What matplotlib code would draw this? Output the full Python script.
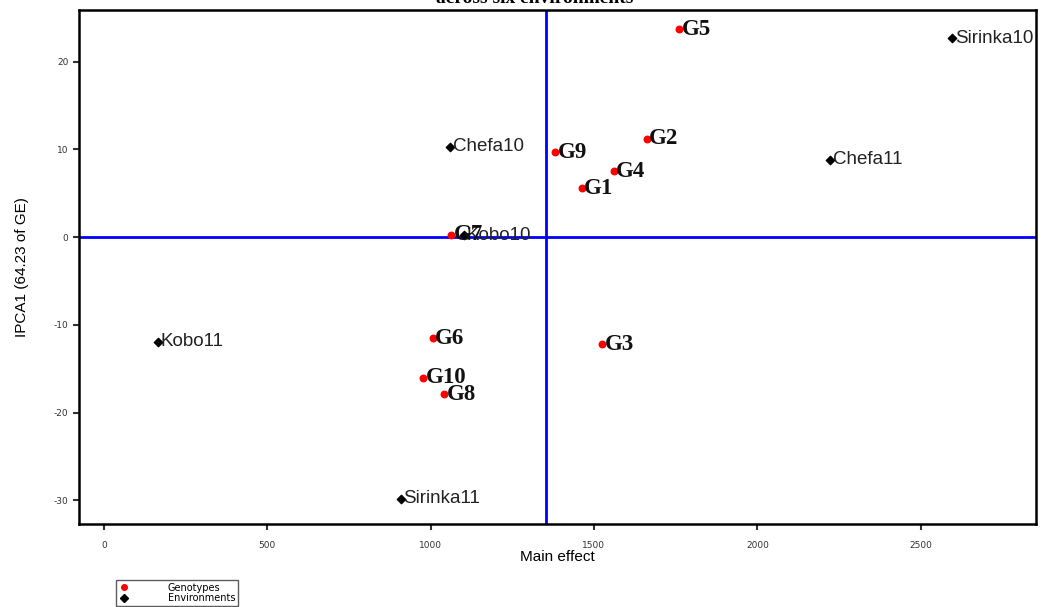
import numpy as np
import matplotlib.pyplot as plt
from matplotlib.lines import Line2D

plt.rcParams['axes.unicode_minus'] = False

# genotype scores (main effect, IPCA1)
geno_names = ['G1', 'G2', 'G3', 'G4', 'G5', 'G6', 'G7', 'G8', 'G9', 'G10']
geno_x = [1462, 1661, 1526, 1560, 1761, 1006, 1064, 1040, 1382, 976]
geno_y = [5.6, 11.2, -12.2, 7.5, 23.7, -11.5, 0.3, -17.9, 9.7, -16.0]

# environment scores
env_names = ['Sirinka10', 'Chefa10', 'Chefa11', 'Kobo10', 'Kobo11', 'Sirinka11']
env_x = [2596, 1061, 2223, 1102, 165, 908]
env_y = [22.7, 10.3, 8.8, 0.2, -11.9, -29.8]

grand_mean = 1352

fig = plt.figure(figsize=(10.61, 6.07), dpi=100)
ax = fig.add_axes([79/1061, 1 - 524/607, (1036 - 79)/1061, (524 - 10)/607])

ax.axvline(grand_mean, color='#0000ff', lw=2, zorder=1)
ax.axhline(0, color='#0000ff', lw=2, zorder=1)

ax.scatter(env_x, env_y, marker='D', s=18, color='black', zorder=3)
ax.scatter(geno_x, geno_y, marker='o', s=22, color='red', zorder=3)

for n, x, y in zip(env_names, env_x, env_y):
    ax.annotate(n, (x, y), xytext=(2, 0), textcoords='offset points',
                va='center', ha='left', fontsize=13.5, family='Liberation Sans',
                color='#222222')
for n, x, y in zip(geno_names, geno_x, geno_y):
    ax.annotate(n, (x, y), xytext=(2, 0), textcoords='offset points',
                va='center', ha='left', fontsize=16.5, family='Liberation Serif',
                fontweight='bold', color='#111111')

ax.set_xlim(-76, 2853)
ax.set_ylim(-32.7, 25.9)
ax.set_xticks([0, 500, 1000, 1500, 2000, 2500])
ax.set_yticks([-30, -20, -10, 0, 10, 20])
ax.tick_params(labelsize=6.5, length=4, width=1.5, colors='#333333')
ax.tick_params(axis='x', pad=8)
for s in ax.spines.values():
    s.set_linewidth(1.8)
ax.set_xlabel('Main effect', fontsize=11, family='Liberation Sans', labelpad=0)
ax.set_ylabel('IPCA1 (64.23 of GE)', fontsize=11, family='Liberation Sans', labelpad=18)

fig.text(535/1061, 1 - 3/607, 'across six environments', ha='center', va='baseline',
         fontsize=14, family='Liberation Serif', fontweight='bold')

handles = [Line2D([], [], marker='o', ls='', color='red', markersize=4),
           Line2D([], [], marker='D', ls='', color='black', markersize=4)]
fig.legend(handles, ['Genotypes', 'Environments'], loc='lower left',
           bbox_to_anchor=(116/1061, 1 - 606/607), fontsize=7, frameon=True,
           fancybox=False, edgecolor='#333333', handletextpad=4, borderpad=0.3,
           labelspacing=0.05, handlelength=1, borderaxespad=0)

plt.savefig('out.png', dpi=100)
